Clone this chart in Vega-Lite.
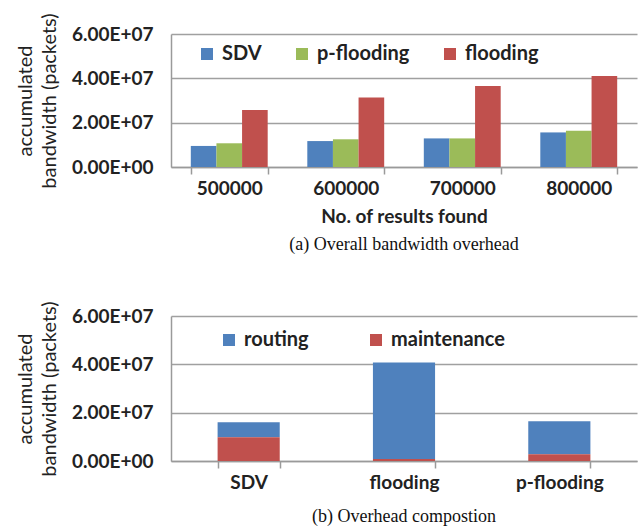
{
  "$schema": "https://vega.github.io/schema/vega-lite/v6.json",
  "background": "white",
  "padding": {"left": 15, "top": 12, "right": 1, "bottom": 2},
  "config": {
    "font": "Lato",
    "view": {"stroke": null},
    "axis": {
      "labelFont": "Lato", "labelFontSize": 19, "labelFontWeight": "bold", "labelColor": "#222222",
      "titleFont": "Lato", "titleColor": "#222222",
      "domainColor": "#9a9a9a", "domainWidth": 1.5,
      "tickColor": "#9a9a9a", "tickWidth": 1.5,
      "gridColor": "#a0a0a0", "gridWidth": 1.5
    },
    "legend": {
      "labelFont": "Lato", "labelFontSize": 20, "labelFontWeight": "bold", "labelColor": "#222222",
      "symbolType": "square", "symbolSize": 144, "symbolStrokeWidth": 0, "labelOffset": 5, "padding": 0
    },
    "title": {"font": "Liberation Serif", "fontSize": 18, "fontWeight": "normal", "color": "#111111", "orient": "bottom", "anchor": "middle", "frame": "group"},
    "concat": {"spacing": 46}
  },
  "resolve": {"scale": {"color": "independent", "x": "independent", "y": "independent"}, "legend": {"color": "independent"}},
  "vconcat": [
    {
      "width": 466, "height": 133,
      "title": {"text": "(a) Overall bandwidth overhead", "offset": 10},
      "data": {"values": [
        {"results": "500000", "method": "SDV", "bandwidth": 9500000},
        {"results": "500000", "method": "p-flooding", "bandwidth": 10700000},
        {"results": "500000", "method": "flooding", "bandwidth": 25700000},
        {"results": "600000", "method": "SDV", "bandwidth": 11700000},
        {"results": "600000", "method": "p-flooding", "bandwidth": 12500000},
        {"results": "600000", "method": "flooding", "bandwidth": 31400000},
        {"results": "700000", "method": "SDV", "bandwidth": 12900000},
        {"results": "700000", "method": "p-flooding", "bandwidth": 12900000},
        {"results": "700000", "method": "flooding", "bandwidth": 36500000},
        {"results": "800000", "method": "SDV", "bandwidth": 15600000},
        {"results": "800000", "method": "p-flooding", "bandwidth": 16400000},
        {"results": "800000", "method": "flooding", "bandwidth": 41000000}
      ]},
      "mark": {"type": "bar"},
      "encoding": {
        "x": {"field": "results", "type": "nominal",
          "scale": {"paddingInner": 0.34, "paddingOuter": 0.17},
          "axis": {"labelAngle": 0, "title": "No. of results found", "titleFontSize": 19, "titleFontWeight": "bold", "titlePadding": 9, "tickBand": "extent", "tickSize": 7, "labelPadding": 5, "grid": false}},
        "xOffset": {"field": "method", "type": "nominal", "sort": ["SDV", "p-flooding", "flooding"], "scale": {"paddingInner": 0, "paddingOuter": 0}},
        "y": {"field": "bandwidth", "type": "quantitative",
          "scale": {"domain": [0, 60000000], "nice": false},
          "axis": {"values": [0, 20000000, 40000000, 60000000],
            "labelExpr": "datum.value == 0 ? '0.00E+00' : format(datum.value / 10000000, '.2f') + 'E+07'",
            "ticks": false, "labelPadding": 18,
            "title": ["accumulated", "bandwidth (packets)"], "titleFontSize": 20, "titleFontWeight": "normal", "titleLineHeight": 24, "titlePadding": 12, "grid": true}},
        "color": {"field": "method", "type": "nominal",
          "scale": {"domain": ["SDV", "p-flooding", "flooding"], "range": ["#4F81BD", "#9BBB59", "#C0504D"]},
          "legend": {"orient": "none", "legendX": 26, "legendY": 10, "direction": "horizontal", "columnPadding": 30, "title": null}}
      }
    },
    {
      "width": 466, "height": 145,
      "title": {"text": "(b) Overhead compostion", "offset": 16},
      "data": {"values": [
        {"method": "SDV", "type": "routing", "bandwidth": 6200000},
        {"method": "SDV", "type": "maintenance", "bandwidth": 9800000},
        {"method": "flooding", "type": "routing", "bandwidth": 40000000},
        {"method": "flooding", "type": "maintenance", "bandwidth": 800000},
        {"method": "p-flooding", "type": "routing", "bandwidth": 13700000},
        {"method": "p-flooding", "type": "maintenance", "bandwidth": 2800000}
      ]},
      "mark": {"type": "bar"},
      "encoding": {
        "x": {"field": "method", "type": "nominal", "sort": ["SDV", "flooding", "p-flooding"],
          "scale": {"paddingInner": 0.6, "paddingOuter": 0.3},
          "axis": {"labelAngle": 0, "title": null, "tickBand": "extent", "tickSize": 7, "labelPadding": 5, "grid": false}},
        "y": {"field": "bandwidth", "type": "quantitative", "stack": "zero",
          "scale": {"domain": [0, 60000000], "nice": false},
          "axis": {"values": [0, 20000000, 40000000, 60000000],
            "labelExpr": "datum.value == 0 ? '0.00E+00' : format(datum.value / 10000000, '.2f') + 'E+07'",
            "ticks": false, "labelPadding": 18,
            "title": ["accumulated", "bandwidth (packets)"], "titleFontSize": 20, "titleFontWeight": "normal", "titleLineHeight": 24, "titlePadding": 12, "grid": true}},
        "color": {"field": "type", "type": "nominal",
          "scale": {"domain": ["routing", "maintenance"], "range": ["#4F81BD", "#C0504D"]},
          "legend": {"orient": "none", "legendX": 48, "legendY": 14, "direction": "horizontal", "columnPadding": 57, "title": null}},
        "order": {"field": "type", "sort": "ascending"}
      }
    }
  ]
}
